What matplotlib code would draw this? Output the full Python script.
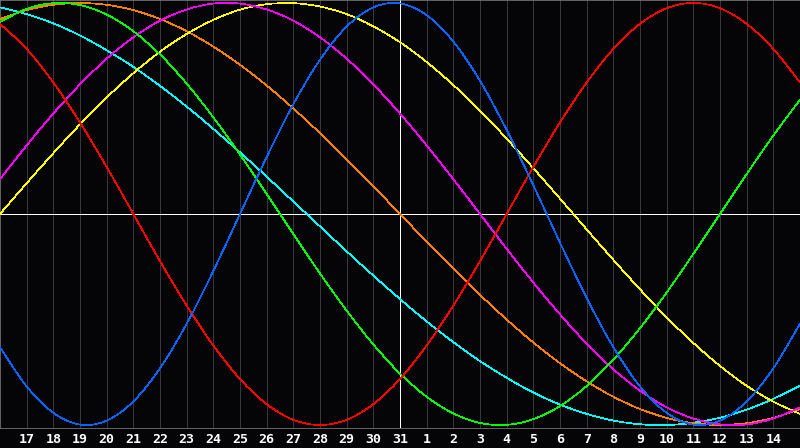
import matplotlib
matplotlib.use("Agg")
import matplotlib.pyplot as plt
from matplotlib.path import Path
from matplotlib.patches import PathPatch
from matplotlib.transforms import blended_transform_factory

# day offsets relative to today (the 31st), one value per day
offsets = list(range(-15, 16))
day_labels = ["17", "18", "19", "20", "21", "22", "23", "24", "25", "26", "27",
              "28", "29", "30", "31", "1", "2", "3", "4", "5", "6", "7", "8",
              "9", "10", "11", "12", "13", "14"]
label_offsets = list(range(-14, 15))

physical = [-0.631, -0.817, -0.942, -0.998, -0.979, -0.888, -0.731, -0.520, -0.270, 0.000,
            0.270, 0.520, 0.731, 0.888, 0.979, 0.998, 0.942, 0.817, 0.631, 0.398,
            0.136, -0.136, -0.398, -0.631, -0.817, -0.942, -0.998, -0.979, -0.888, -0.731,
            -0.520]
emotional = [0.901, 0.782, 0.623, 0.434, 0.223, 0.000, -0.223, -0.434, -0.623, -0.782,
             -0.901, -0.975, -1.000, -0.975, -0.901, -0.782, -0.623, -0.434, -0.223, 0.000,
             0.223, 0.434, 0.623, 0.782, 0.901, 0.975, 1.000, 0.975, 0.901, 0.782,
             0.623]
intellectual = [0.910, 0.972, 0.999, 0.990, 0.945, 0.866, 0.756, 0.618, 0.458, 0.282,
                0.095, -0.095, -0.282, -0.458, -0.618, -0.756, -0.866, -0.945, -0.990, -0.999,
                -0.972, -0.910, -0.815, -0.690, -0.541, -0.372, -0.189, 0.000, 0.189, 0.372,
                0.541]
intuitive = [0.165, 0.325, 0.476, 0.614, 0.736, 0.837, 0.916, 0.969, 0.997, 0.997,
             0.969, 0.916, 0.837, 0.736, 0.614, 0.476, 0.325, 0.165, 0.000, -0.165,
             -0.325, -0.476, -0.614, -0.736, -0.837, -0.916, -0.969, -0.997, -0.997, -0.969,
             -0.916]
aesthetic = [0.000, 0.146, 0.288, 0.425, 0.552, 0.667, 0.769, 0.853, 0.920, 0.968,
             0.994, 0.999, 0.983, 0.947, 0.889, 0.814, 0.720, 0.611, 0.490, 0.357,
             0.217, 0.073, -0.073, -0.217, -0.357, -0.490, -0.611, -0.720, -0.814, -0.889,
             -0.947]
awareness = [0.924, 0.966, 0.991, 1.000, 0.991, 0.966, 0.924, 0.866, 0.793, 0.707,
             0.609, 0.500, 0.383, 0.259, 0.131, 0.000, -0.131, -0.259, -0.383, -0.500,
             -0.609, -0.707, -0.793, -0.866, -0.924, -0.966, -0.991, -1.000, -0.991, -0.966,
             -0.924]
spiritual = [0.979, 0.947, 0.903, 0.846, 0.776, 0.697, 0.607, 0.509, 0.403, 0.292,
             0.177, 0.059, -0.059, -0.177, -0.292, -0.403, -0.509, -0.607, -0.697, -0.776,
             -0.846, -0.903, -0.947, -0.979, -0.996, -1.000, -0.989, -0.965, -0.927, -0.876,
             -0.813]


def smooth_path(xs, ys):
    # Catmull-Rom through the daily points, drawn as cubic Bezier pieces
    n = len(xs)
    verts = [(xs[0], ys[0])]
    codes = [Path.MOVETO]
    for i in range(n - 1):
        i0 = max(i - 1, 0)
        i3 = min(i + 2, n - 1)
        c1 = (xs[i] + (xs[i + 1] - xs[i0]) / 6, ys[i] + (ys[i + 1] - ys[i0]) / 6)
        c2 = (xs[i + 1] - (xs[i3] - xs[i]) / 6, ys[i + 1] - (ys[i3] - ys[i]) / 6)
        verts += [c1, c2, (xs[i + 1], ys[i + 1])]
        codes += [Path.CURVE4] * 3
    return Path(verts, codes)


bg = "#050508"
fig = plt.figure(figsize=(8, 4.48), dpi=100, facecolor=bg)
ax = fig.add_axes([0, 20 / 448, 1, 428 / 448])
ax.set_facecolor(bg)
ax.set_xlim(-15, 15)
ax.set_ylim(-1.014, 1.014)

# day grid
for x in label_offsets:
    if x != 0:
        ax.axvline(x, color="#38383c", lw=0.5, antialiased=False, zorder=1)
ax.axvline(0, color="white", lw=0.5, antialiased=False, zorder=1)
ax.axhline(0, color="white", lw=0.5, antialiased=False, zorder=1)

series = [
    (spiritual, "#00ffff"),
    (awareness, "#ff8000"),
    (aesthetic, "#ffff00"),
    (intuitive, "#ff00ff"),
    (intellectual, "#00ff00"),
    (emotional, "#ff0000"),
    (physical, "#0a64ff"),
]
for vals, col in series:
    ax.add_patch(PathPatch(smooth_path(offsets, vals), facecolor="none",
                           edgecolor=col, lw=0.5, antialiased=False, zorder=3))

for s in ax.spines.values():
    s.set_color("#8a8a8a")
    s.set_linewidth(0.5)
ax.set_xticks([])
ax.set_yticks([])

trans = blended_transform_factory(ax.transData, fig.transFigure)
for x, lab in zip(label_offsets, day_labels):
    ax.text(x, 9 / 448, lab, transform=trans, ha="center", va="center",
            color="white", fontsize=9.5, fontweight="bold",
            family="DejaVu Sans Mono", clip_on=False)

fig.savefig("out.png", dpi=100, facecolor=bg)
